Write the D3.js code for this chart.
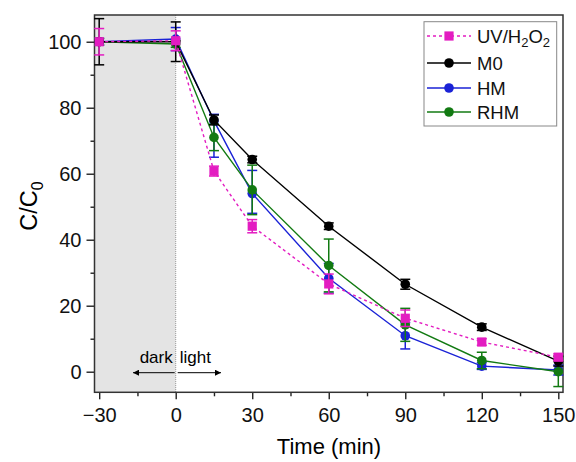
<!DOCTYPE html>
<html><head><meta charset="utf-8">
<script src="https://cdn.jsdelivr.net/npm/d3@7"></script>
<style>body{margin:0;background:#fff}svg{display:block}text{font-family:"Liberation Sans",Arial,sans-serif}</style>
</head><body>
<script>
const times = [-30, 0, 15, 30, 60, 90, 120, 150];
const xTicks = [-30, 0, 30, 60, 90, 120, 150];
const yTicks = [0, 20, 40, 60, 80, 100];
const seriesNames = ["UV/H2O2", "M0", "HM", "RHM"];
const uvVals  = [100, 100.3, 60.8, 44.1, 26.6, 16.2, 9.0, 4.4];
const uvErrLo = [4, 3, 1.5, 2, 3, 2.5, 1, 1];
const uvErrHi = [4, 3, 1.5, 2, 3, 2.5, 1, 1];
const m0Vals  = [100, 100, 76.3, 64.3, 44.1, 26.5, 13.5, 3.2];
const m0ErrLo = [7, 6, 1.5, 1, 1, 1.5, 1, 1.5];
const m0ErrHi = [7, 6, 1.5, 1, 1, 1.5, 1, 1.5];
const hmVals  = [100, 100.8, 76, 54, 28.3, 10.9, 1.7, 0.5];
const hmErrLo = [1, 3.5, 11, 6, 4.5, 4, 1, 1.5];
const hmErrHi = [1, 3.5, 2, 7, 4.5, 4, 1, 1.5];
const rhmVals  = [100, 99.3, 71, 55.1, 32.2, 14.2, 3.4, 0];
const rhmErrLo = [1, 1, 4, 7.5, 8, 5, 2.5, 4.5];
const rhmErrHi = [1, 1, 4, 7.5, 8, 5, 2.5, 4.5];
const colors = {"UV/H2O2":"#e31cc1","M0":"#000000","HM":"#1a22d6","RHM":"#127a12"};

const series = [
  {name:"HM", vals:hmVals, lo:hmErrLo, hi:hmErrHi, shape:"circle", dash:null},
  {name:"RHM", vals:rhmVals, lo:rhmErrLo, hi:rhmErrHi, shape:"circle", dash:null},
  {name:"M0", vals:m0Vals, lo:m0ErrLo, hi:m0ErrHi, shape:"circle", dash:null},
  {name:"UV/H2O2", vals:uvVals, lo:uvErrLo, hi:uvErrHi, shape:"square", dash:"3,3"}
];

const W = 576, H = 462;
const L = 94.5, R = 563, T = 15, B = 392.3;
const svg = d3.select("body").append("svg").attr("width", W).attr("height", H);
const x = d3.scaleLinear().domain([-31.84, 151.84]).range([L, R]);
const y = d3.scaleLinear().domain([-6.24, 108.1]).range([B, T]);

// dark region
svg.append("rect").attr("x", L).attr("y", T).attr("width", x(0) - L).attr("height", B - T).attr("fill", "#e4e4e4");
svg.append("line").attr("x1", x(0)).attr("x2", x(0)).attr("y1", T).attr("y2", B)
  .attr("stroke", "#999").attr("stroke-width", 1).attr("stroke-dasharray", "1,1");

// axes
const xAxis = svg.append("g").attr("transform", `translate(0,${B})`)
  .call(d3.axisBottom(x).tickValues(xTicks).tickSize(7).tickPadding(6).tickFormat(d => d < 0 ? "\u2212" + Math.abs(d) : d));
const xMinor = svg.append("g").attr("transform", `translate(0,${B})`)
  .call(d3.axisBottom(x).tickValues(d3.range(-15, 151, 30)).tickSize(4).tickFormat(""));
const yAxis = svg.append("g").attr("transform", `translate(${L},0)`)
  .call(d3.axisLeft(y).tickValues(yTicks).tickSize(8).tickPadding(5));
const yMinor = svg.append("g").attr("transform", `translate(${L},0)`)
  .call(d3.axisLeft(y).tickValues(d3.range(10, 101, 20)).tickSize(4).tickFormat(""));
[xAxis, xMinor, yAxis, yMinor].forEach(g => {
  g.select(".domain").remove();
  g.selectAll(".tick line").attr("stroke", "#222").attr("stroke-width", 1.4);
  g.selectAll(".tick text").attr("font-size", 20).attr("fill", "#111");
});
xAxis.selectAll(".tick text").attr("dy", "0.85em");

// frame
svg.append("rect").attr("x", L).attr("y", T).attr("width", R - L).attr("height", B - T)
  .attr("fill", "none").attr("stroke", "#333").attr("stroke-width", 1.5);

// series
const line = d3.line().x((d, i) => x(times[i])).y(d => y(d));
series.forEach(s => {
  const g = svg.append("g");
  const c = colors[s.name];
  g.append("path").attr("d", line(s.vals)).attr("fill", "none").attr("stroke", c)
    .attr("stroke-width", 1.4).attr("stroke-dasharray", s.dash);
  s.vals.forEach((v, i) => {
    const cx = x(times[i]);
    const y1 = y(v + s.hi[i]), y2 = y(v - s.lo[i]);
    g.append("line").attr("x1", cx).attr("x2", cx).attr("y1", y1).attr("y2", y2).attr("stroke", c).attr("stroke-width", 1.5);
    [y1, y2].forEach(yy => g.append("line").attr("x1", cx - 5).attr("x2", cx + 5).attr("y1", yy).attr("y2", yy).attr("stroke", c).attr("stroke-width", 1.5));
    if (s.shape === "circle") g.append("circle").attr("cx", cx).attr("cy", y(v)).attr("r", 4.8).attr("fill", c);
    else g.append("rect").attr("x", cx - 4.6).attr("y", y(v) - 4.6).attr("width", 9.2).attr("height", 9.2).attr("fill", c);
  });
});

// dark/light annotation
svg.append("text").attr("x", x(0) - 3).attr("y", 363).attr("text-anchor", "end").attr("font-size", 17).text("dark");
svg.append("text").attr("x", x(0) + 4).attr("y", 363).attr("text-anchor", "start").attr("font-size", 17).text("light");
const defs = svg.append("defs");
defs.append("marker").attr("id", "ah").attr("viewBox", "0 0 10 10").attr("refX", 10).attr("refY", 5)
  .attr("markerWidth", 10).attr("markerHeight", 6).attr("markerUnits", "userSpaceOnUse").attr("orient", "auto")
  .append("path").attr("d", "M0,0L10,5L0,10Z").attr("fill", "#000");
svg.append("line").attr("x1", x(0) - 1).attr("x2", 133).attr("y1", 372.7).attr("y2", 372.7).attr("stroke", "#000").attr("stroke-width", 1).attr("marker-end", "url(#ah)");
svg.append("line").attr("x1", x(0) + 2).attr("x2", 221).attr("y1", 372.7).attr("y2", 372.7).attr("stroke", "#000").attr("stroke-width", 1).attr("marker-end", "url(#ah)");

// axis titles
svg.append("text").attr("x", 329).attr("y", 454).attr("text-anchor", "middle").attr("font-size", 22).text("Time (min)");
const yt = svg.append("text").attr("transform", "translate(37,206) rotate(-90)").attr("text-anchor", "middle").attr("font-size", 23.5);
yt.append("tspan").text("C/C");
yt.append("tspan").attr("font-size", 16).attr("dy", 6).text("0");

// legend
const lg = svg.append("g");
lg.append("rect").attr("x", 424).attr("y", 21.7).attr("width", 132.7).attr("height", 104.3)
  .attr("fill", "#fff").attr("stroke", "#888").attr("stroke-width", 1);
const legOrder = ["UV/H2O2", "M0", "HM", "RHM"];
const legY = [36, 63, 88, 112];
legOrder.forEach((n, i) => {
  const c = colors[n], yy = legY[i];
  lg.append("line").attr("x1", 427).attr("x2", 471).attr("y1", yy).attr("y2", yy).attr("stroke", c)
    .attr("stroke-width", 1.4).attr("stroke-dasharray", n === "UV/H2O2" ? "3,3" : null);
  if (n === "UV/H2O2") lg.append("rect").attr("x", 449 - 4.6).attr("y", yy - 4.6).attr("width", 9.2).attr("height", 9.2).attr("fill", c);
  else lg.append("circle").attr("cx", 449).attr("cy", yy).attr("r", 4.8).attr("fill", c);
  const t = lg.append("text").attr("x", 477).attr("y", yy + 6.5).attr("font-size", 18.5).attr("fill", "#111");
  if (n === "UV/H2O2") {
    t.append("tspan").text("UV/H");
    t.append("tspan").attr("font-size", 13).attr("dy", 4).text("2");
    t.append("tspan").attr("dy", -4).text("O");
    t.append("tspan").attr("font-size", 13).attr("dy", 4).text("2");
  } else t.text(n);
});
</script>
</body></html>
